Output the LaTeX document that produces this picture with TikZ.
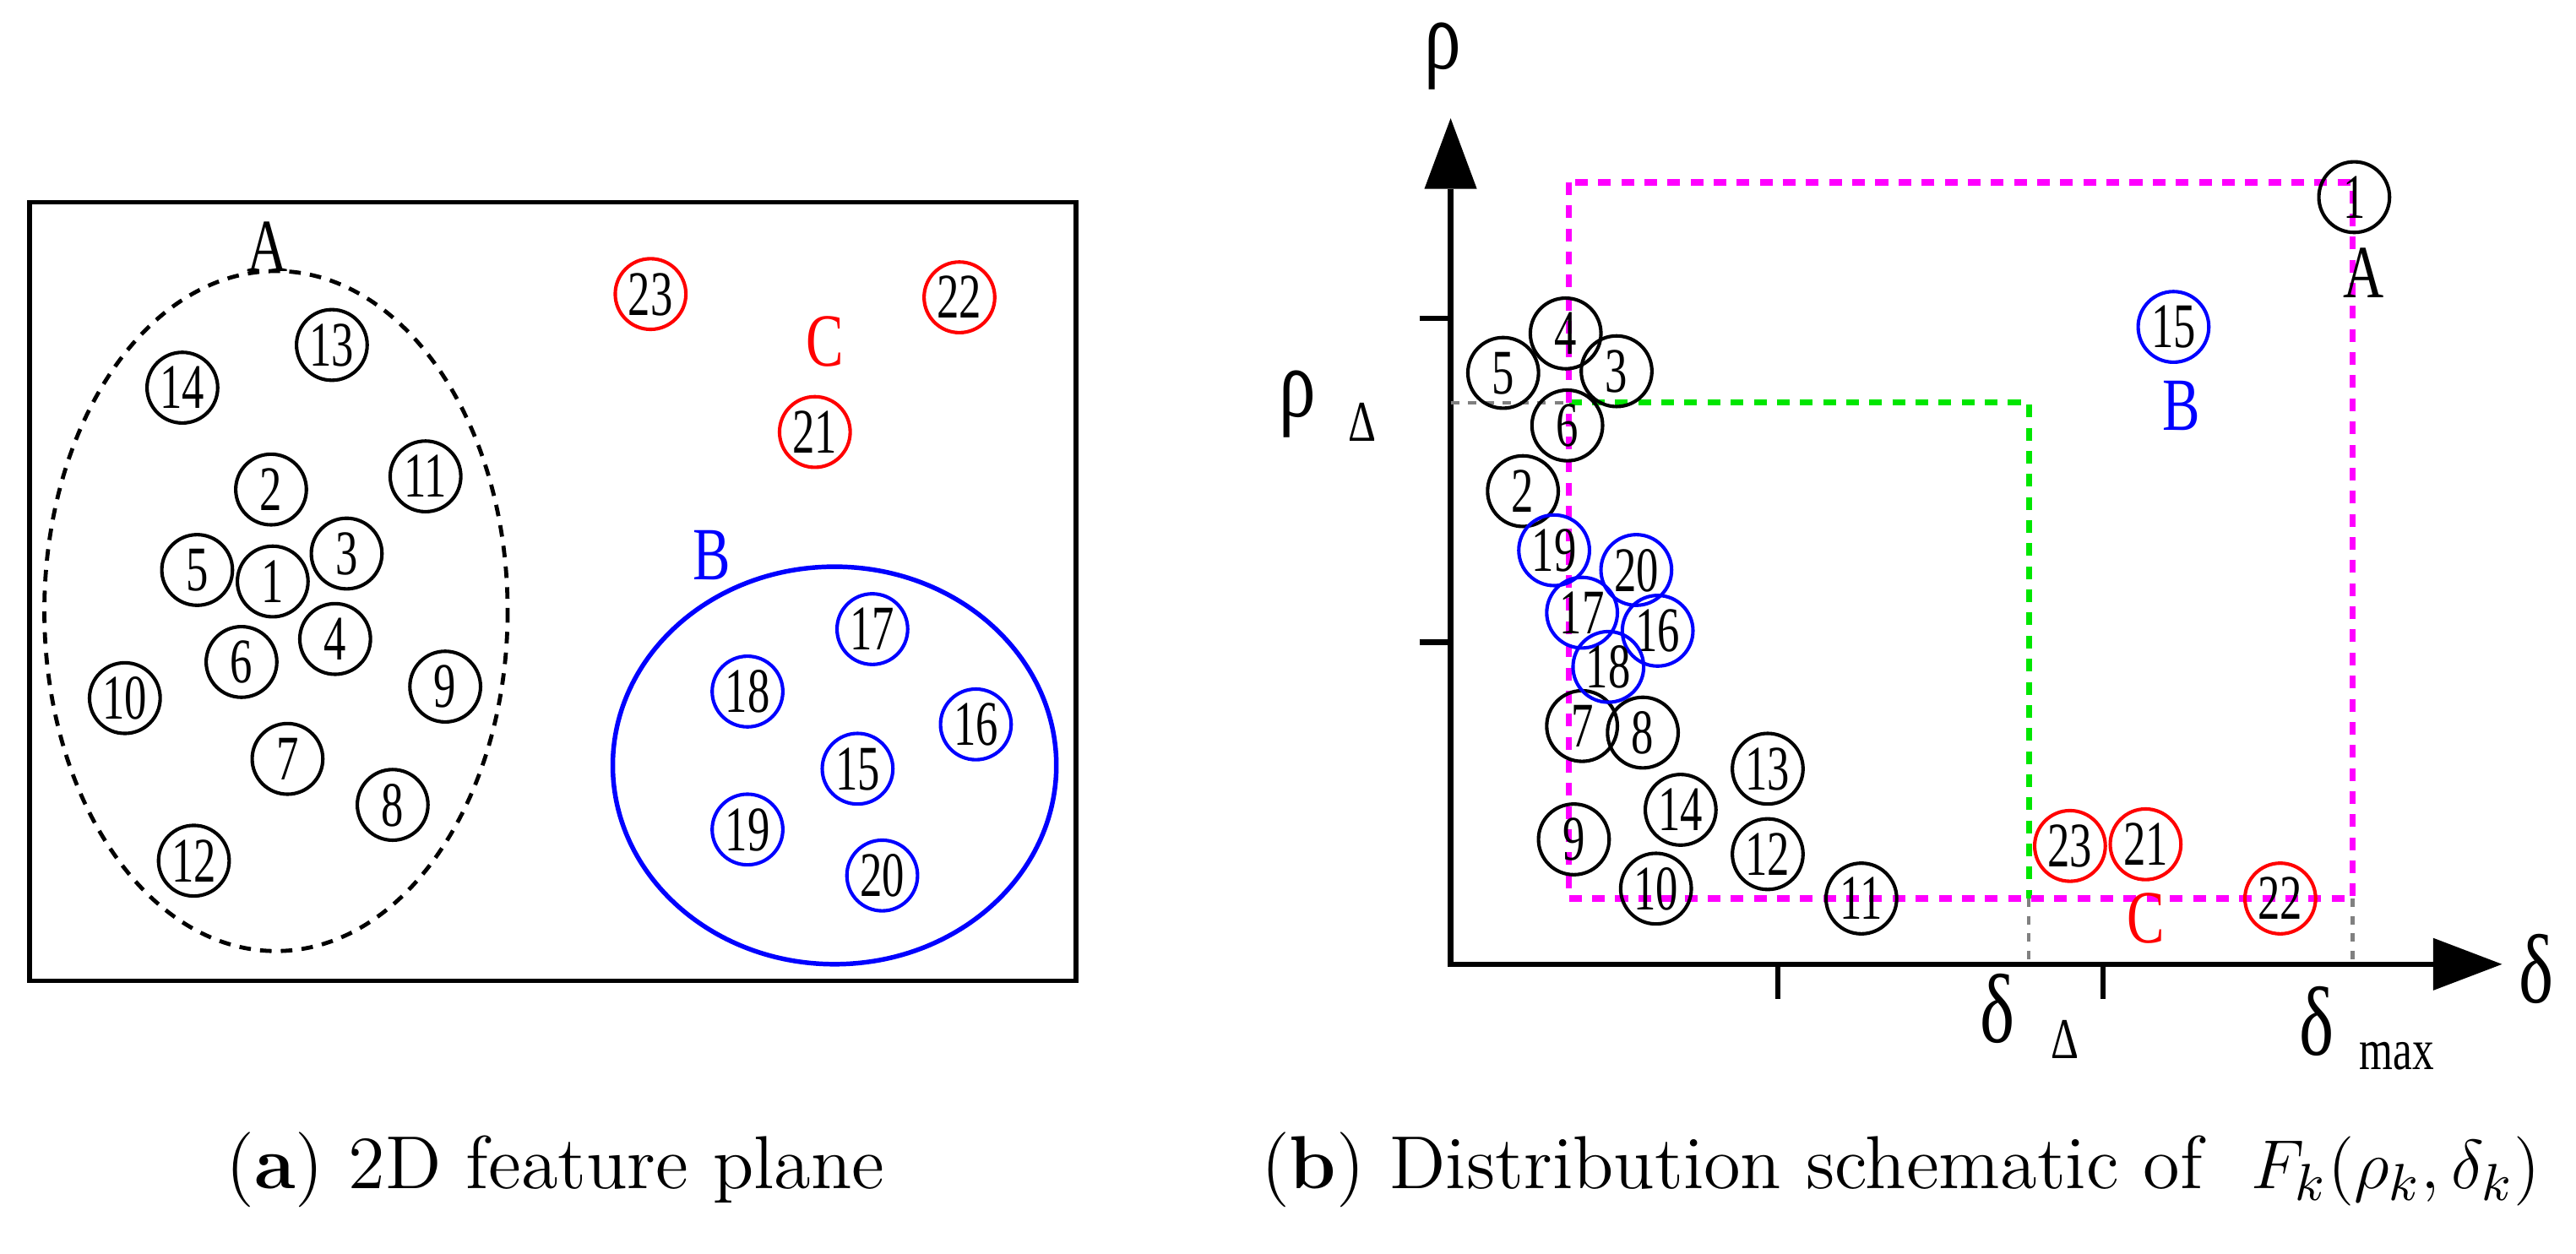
\documentclass[tikz,border=0pt]{standalone}
\usepackage{fontspec}
\newfontfamily\lab{Liberation Serif}
\definecolor{mag}{RGB}{255,0,255}
\definecolor{grn}{RGB}{0,230,0}
\begin{document}
\begin{tikzpicture}[x=0.01cm,y=-0.01cm,
 pt/.style={draw,circle,minimum size=0.43cm,inner sep=0pt,line width=0.6pt,font=\lab\fontsize{11}{11}\selectfont,text depth=0pt},
 bk/.style={pt,draw=black},
 bl/.style={pt,draw=blue},
 rd/.style={pt,draw=red},
 lb/.style={font=\lab\fontsize{13}{13}\selectfont,inner sep=0pt,xscale=0.75},
 gl/.style={font=\lab\fontsize{17}{17}\selectfont,inner sep=0pt,xscale=0.75},
 sb/.style={font=\lab\fontsize{10}{10}\selectfont,inner sep=0pt,xscale=0.75},
 mg/.style={mag,dash pattern=on 2.2pt off 1.8pt,line width=1.1pt},
 gr/.style={grn,dash pattern=on 2.2pt off 1.8pt,line width=1.1pt},
 gy/.style={gray,dash pattern=on 1.5pt off 1.5pt,line width=0.6pt}]
\useasboundingbox (0,0) rectangle (1568,763);
% panel a
\draw[line width=0.8pt] (18,123) rectangle (655,597);
\draw[dash pattern=on 2pt off 1.6pt,line width=0.7pt] (168,372) ellipse [x radius=141, y radius=207];
\node[lb] (A) at (163,150) {A};
\draw[blue,line width=0.8pt] (508,466) ellipse [x radius=135, y radius=121];
\node[lb,blue] (B) at (433,338) {B};
\node[lb,red] (C) at (502,208) {C};
\foreach \n/\x/\y in {14/111/236,13/202/210,2/165/298,11/259/290,5/120/347,1/166/354,3/211/337,6/147/403,4/204/389,10/76/425,9/271/418,7/175/462,8/239/490,12/118/524}
  \node[bk] (a\n) at (\x,\y) {\scalebox{0.7}[1]{\n}};
\foreach \n/\x/\y in {23/396/179,22/584/181,21/496/263}
  \node[rd] (a\n) at (\x,\y) {\scalebox{0.7}[1]{\n}};
\foreach \n/\x/\y in {17/531/383,18/455/421,16/594/441,15/522/468,19/455/505,20/537/533}
  \node[bl] (a\n) at (\x,\y) {\scalebox{0.7}[1]{\n}};
% panel b axes
\coordinate (O) at (883,587);
\coordinate (Yt) at (883,115);
\coordinate (Xt) at (1481,587);
\draw[line width=0.9pt] (Yt) -- (O) -- (Xt);
\fill (867,115) -- (899,115) -- (883,72) -- cycle;
\fill (1481,571) -- (1481,603) -- (1523,587) -- cycle;
\draw[line width=0.9pt] (864,194) -- (883,194) (864,391) -- (883,391);
\draw[line width=0.9pt] (1082,587) -- (1082,608) (1280,587) -- (1280,608);
\node[gl] (rho) at (878,34) {ρ};
\node[gl] (del) at (1544,590) {δ};
\node[gl] (rd) at (790,246) {ρ};
\node[sb] (rds) at (829,257) {Δ};
\node[gl] (dd) at (1216,614) {δ};
\node[sb] (dds) at (1257,633) {Δ};
\node[gl] (dm) at (1410,622) {δ};
\node[sb] (dms) at (1459,643) {max};
% dashed boxes
\draw[gy] (883,245) -- (955,245);
\draw[gy] (1235,547) -- (1235,587);
\draw[gy] (1432,547) -- (1432,587);
\draw[gr] (955,245) -- (1235,245) -- (1235,547);
\draw[mg] (955,111) rectangle (1432,547);
% points b
\foreach \n/\x/\y in {1/1433/120,4/953/203,5/915/227,3/984/226,6/954/259,2/927/299,7/963/442,8/1000/446,13/1076/468,14/1023/493,9/958/511,12/1076/520,10/1008/541,11/1133/547}
  \node[bk] (b\n) at (\x,\y) {\scalebox{0.7}[1]{\n}};
\foreach \n/\x/\y in {15/1323/199,19/946/335,20/996/347,17/963/373,16/1009/384,18/979/406}
  \node[bl] (b\n) at (\x,\y) {\scalebox{0.7}[1]{\n}};
\foreach \n/\x/\y in {23/1260/515,21/1306/514,22/1388/547}
  \node[rd] (b\n) at (\x,\y) {\scalebox{0.7}[1]{\n}};
\node[lb] (bA) at (1439,166) {A};
\node[lb,blue] (bB) at (1328,247) {B};
\node[lb,red] (bC) at (1306,559) {C};
% captions
\node[font=\fontsize{13}{13}\selectfont] (capa) at (338,712) {(\textbf{a}) 2D feature plane};
\node[font=\fontsize{13}{13}\selectfont] (capb) at (1157,712) {(\textbf{b}) Distribution schematic of \ $F_k(\rho_k,\delta_k)$};
\end{tikzpicture}
\end{document}
